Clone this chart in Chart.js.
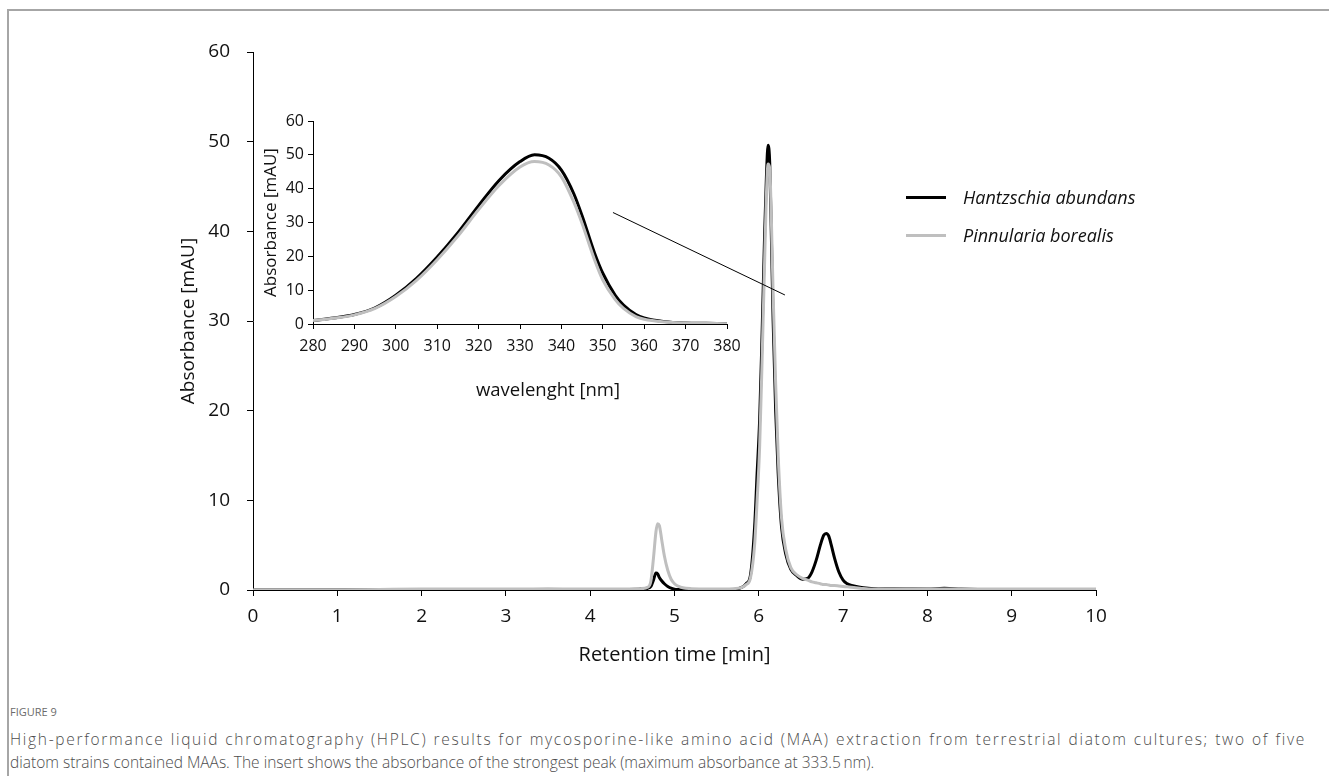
<!DOCTYPE html>
<html>
<head>
<meta charset="utf-8">
<script src="https://cdn.jsdelivr.net/npm/chart.js@4"></script>
<style>
  html, body { margin: 0; padding: 0; background: #fff; }
  body { width: 1329px; height: 776px; position: relative; overflow: hidden; font-family: "Open Sans", sans-serif; }
  .frame { position: absolute; left: 7px; top: 9px; right: -5px; bottom: -5px; border-top: 2px solid #a6a6a6; border-left: 2px solid #a6a6a6; }
  canvas { position: absolute; }
  #main { left: 150px; top: 40px; }
  #inset { left: 230px; top: 105px; }
  .legend { position: absolute; left: 906px; font-style: italic; font-size: 18px; color: #111; }
  .legend div { position: relative; height: 38px; }
  .legend span.swatch { position: absolute; left: 0; top: -2px; width: 40px; height: 3px; }
  .legend span.label { position: absolute; left: 57px; top: -13px; white-space: nowrap; line-height: 25px; }
  .caption { position: absolute; left: 10px; top: 704px; width: 1296px; }
  .caption .fig { font-size: 11px; line-height: 15px; color: #6b6b6b; }
  .caption .txt { font-size: 15.5px; line-height: 23px; font-weight: 300; color: #4d4d4d; white-space: nowrap; }
  .caption .first { margin-top: 9px; letter-spacing: 1.7px; text-align: justify; text-align-last: justify; white-space: normal; }
</style>
</head>
<body>
<div class="frame"></div>
<canvas id="main" width="1000" height="640"></canvas>
<canvas id="inset" width="520" height="300"></canvas>
<div class="legend" id="legend" style="top:198px"></div>
<div class="caption">
  <div class="fig">FIGURE 9</div>
  <div class="txt first">High-performance liquid chromatography (HPLC) results for mycosporine-like amino acid (MAA) extraction from terrestrial diatom cultures; two of five</div>
  <div class="txt">diatom strains contained MAAs. The insert shows the absorbance of the strongest peak (maximum absorbance at 333.5&#8201;nm).</div>
</div>
<script>
// chromatogram, retention time in minutes
const retentionTime = [0, 1, 2, 2.5, 3, 3.5, 4, 4.4, 4.6, 4.68, 4.72, 4.75, 4.78, 4.8, 4.82, 4.85, 4.88, 4.92, 4.96, 5.0, 5.05, 5.1, 5.2, 5.4, 5.6, 5.7, 5.8, 5.85, 5.9, 5.95, 5.98, 6.01, 6.04, 6.07, 6.09, 6.11, 6.13, 6.15, 6.17, 6.2, 6.23, 6.27, 6.32, 6.38, 6.45, 6.52, 6.58, 6.63, 6.68, 6.73, 6.77, 6.8, 6.83, 6.86, 6.9, 6.95, 7.0, 7.05, 7.1, 7.2, 7.3, 7.5, 8.0, 8.2, 8.4, 9.0, 10];
const hantzschiaAbs = [0, 0, 0, 0, 0, 0, 0, 0.05, 0.1, 0.2, 0.4, 1.1, 1.9, 1.8, 1.4, 1.0, 0.7, 0.4, 0.2, 0.1, 0.05, 0, 0, 0, 0, 0.05, 0.3, 0.7, 1.6, 7, 13, 19, 29, 40, 46, 49.6, 47.5, 39, 30, 20, 13, 7, 4, 2.3, 1.6, 1.2, 1.3, 2, 3.3, 5, 6.1, 6.3, 6.0, 5.0, 3.5, 2.0, 1.1, 0.7, 0.5, 0.3, 0.2, 0.1, 0.1, 0.2, 0.1, 0, 0];
const pinnulariaAbs = [0, 0, 0.1, 0.1, 0.1, 0.15, 0.1, 0.1, 0.15, 0.3, 1.0, 3.5, 6.5, 7.4, 7.2, 5.5, 3.8, 2.2, 1.2, 0.7, 0.4, 0.25, 0.15, 0.1, 0.1, 0.15, 0.3, 0.6, 1.3, 5, 10, 16, 26, 37, 44, 47.5, 47, 41, 33, 23, 15, 8, 4.5, 2.5, 1.7, 1.3, 1.1, 0.9, 0.8, 0.7, 0.6, 0.6, 0.55, 0.5, 0.5, 0.45, 0.4, 0.35, 0.3, 0.2, 0.1, 0.05, 0.1, 0.1, 0.1, 0.1, 0.1];

// insert: absorbance spectrum of the strongest peak
const wavelength = [280, 285, 290, 295, 300, 305, 310, 315, 320, 325, 330, 333.5, 337, 340, 343, 345, 348, 350, 353, 355, 358, 360, 365, 370, 375, 380];
const hantzschiaSpectrum = [1.0, 1.8, 2.8, 4.8, 8.5, 13.5, 19.8, 27, 35, 42.5, 48, 50, 49, 45.5, 38.5, 32, 21, 15, 8.5, 5.6, 2.8, 1.8, 0.7, 0.3, 0.2, 0.1];
const pinnulariaSpectrum = [1.0, 1.7, 2.7, 4.6, 8.1, 12.9, 19, 26, 33.8, 41, 46.4, 48, 47, 43.5, 36, 29.7, 19, 13, 7.2, 4.6, 2.2, 1.4, 0.6, 0.3, 0.2, 0.1];

// pointer from insert to the peak (retention time, absorbance)
const pointerTime = [4.27, 6.31];
const pointerAbs = [42.1, 32.9];

const seriesNames = ['Hantzschia abundans', 'Pinnularia borealis'];
const seriesColors = ['#000000', '#bfbfbf'];

const FONT = '"Open Sans", sans-serif';
const TXT = '#111';

const pts = (xs, ys) => xs.map((x, i) => ({ x: x, y: ys[i] }));

// fixed scale sizes so the plot area lands where it should
const fixX = h => s => { s.height = h; s.paddingLeft = 0; s.paddingRight = 0; };
const fixY = w => s => { s.width = w; s.paddingTop = 0; s.paddingBottom = 0; };

function axis(opts) {
  return {
    type: 'linear',
    min: opts.min,
    max: opts.max,
    afterFit: opts.fit,
    grid: { drawOnChartArea: false, drawTicks: true, tickLength: opts.tick, color: '#000', lineWidth: 1 },
    border: { display: true, color: '#000', width: 1 },
    ticks: { stepSize: opts.step, padding: opts.pad, color: TXT, font: { family: FONT, size: opts.size }, maxRotation: 0, autoSkip: false },
    title: { display: opts.title !== '', text: opts.title, color: TXT, font: { family: FONT, size: opts.titleSize }, padding: opts.titlePad }
  };
}

const lineStyle = (c, w) => ({
  borderColor: c, backgroundColor: c, borderWidth: w, pointRadius: 0, fill: false,
  cubicInterpolationMode: 'monotone'
});

// the insert's x title sits a little right of centre, as in the original
const offsetTitle = {
  id: 'offsetTitle',
  afterDraw(chart, args, o) {
    const { ctx, chartArea } = chart;
    ctx.save();
    ctx.font = o.size + 'px ' + FONT;
    ctx.fillStyle = TXT;
    ctx.textAlign = 'center';
    ctx.textBaseline = 'middle';
    ctx.fillText(o.text, (chartArea.left + chartArea.right) / 2 + o.dx, chartArea.bottom + o.dy);
    ctx.restore();
  }
};

new Chart(document.getElementById('main'), {
  type: 'line',
  data: {
    datasets: [
      Object.assign({ label: seriesNames[0], data: pts(retentionTime, hantzschiaAbs), order: 2 }, lineStyle(seriesColors[0], 3)),
      Object.assign({ label: seriesNames[1], data: pts(retentionTime, pinnulariaAbs), order: 1 }, lineStyle(seriesColors[1], 3)),
      { label: 'pointer', data: pts(pointerTime, pointerAbs), borderColor: '#000', borderWidth: 1, pointRadius: 0, order: 0 }
    ]
  },
  options: {
    responsive: false,
    animation: false,
    devicePixelRatio: 1,
    layout: { padding: { top: 12, right: 54, left: 0, bottom: 0 } },
    plugins: { legend: { display: false }, tooltip: { enabled: false } },
    scales: {
      x: axis({ min: 0, max: 10, step: 1, tick: 6, pad: 9, size: 19, title: 'Retention time [min]', titleSize: 20, titlePad: { top: 0, bottom: 13 }, fit: fixX(90) }),
      y: axis({ min: 0, max: 60, step: 10, tick: 6, pad: 17, size: 19, title: 'Absorbance [mAU]', titleSize: 19, titlePad: { top: 27, bottom: 0 }, fit: fixY(103) })
    }
  }
});

new Chart(document.getElementById('inset'), {
  type: 'line',
  data: {
    datasets: [
      Object.assign({ label: seriesNames[0], data: pts(wavelength, hantzschiaSpectrum), order: 2 }, lineStyle(seriesColors[0], 3)),
      Object.assign({ label: seriesNames[1], data: pts(wavelength, pinnulariaSpectrum), order: 1 }, lineStyle(seriesColors[1], 3))
    ]
  },
  options: {
    responsive: false,
    animation: false,
    devicePixelRatio: 1,
    layout: { padding: { top: 16, right: 23, left: 0, bottom: 0 } },
    plugins: {
      legend: { display: false },
      tooltip: { enabled: false },
      offsetTitle: { text: 'wavelenght [nm]', size: 18.5, dx: 28, dy: 67 }
    },
    scales: {
      x: axis({ min: 280, max: 380, step: 10, tick: 5, pad: 8, size: 16, title: '', fit: fixX(81) }),
      y: axis({ min: 0, max: 60, step: 10, tick: 5, pad: 4, size: 16, title: 'Absorbance [mAU]', titleSize: 17, titlePad: { top: 31, bottom: 0 }, fit: fixY(83) })
    }
  },
  plugins: [offsetTitle]
});

// legend built from the series names
const legend = document.getElementById('legend');
seriesNames.forEach((name, i) => {
  const row = document.createElement('div');
  row.innerHTML = '<span class="swatch" style="background:' + seriesColors[i] + '"></span><span class="label">' + name + '</span>';
  legend.appendChild(row);
});
</script>
</body>
</html>
